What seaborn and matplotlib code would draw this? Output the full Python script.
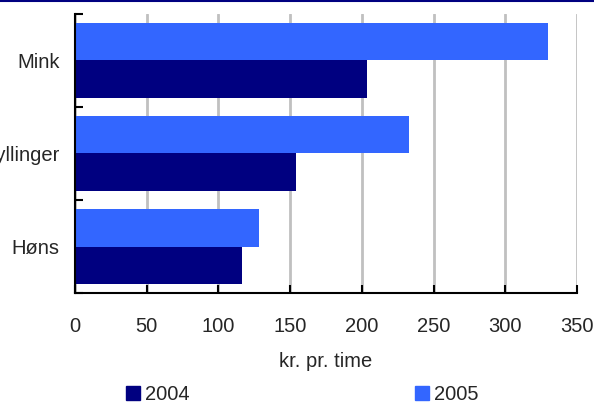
import pandas as pd
import matplotlib
matplotlib.use('Agg')
import matplotlib.pyplot as plt
import seaborn as sns
from matplotlib.lines import Line2D
from matplotlib.patches import Patch

sns.set_style('white')
plt.rcParams['font.family'] = ['Liberation Sans', 'DejaVu Sans']

# Data
categories = ['Mink', 'Kyllinger', 'Høns']
years = ['2004', '2005']
values_2004 = [203.5, 154, 116.5]
values_2005 = [330, 233, 128]
colors = {'2004': '#000080', '2005': '#3366FF'}

df = pd.DataFrame({
    'Kategori': categories * 2,
    'År': ['2004'] * 3 + ['2005'] * 3,
    'Værdi': values_2004 + values_2005,
})

fs = 14.5
fig = plt.figure(figsize=(5.94, 4.05), dpi=100)
ax = fig.add_axes([0.1263, 0.2765, 0.845, 0.689])

sns.barplot(data=df, y='Kategori', x='Værdi', hue='År', hue_order=['2005', '2004'],
            order=categories, palette=colors, orient='h', width=0.8,
            saturation=1, linewidth=0, edgecolor='none', ax=ax, legend=False)

ax.set_xlim(0, 350)
ax.set_ylim(2.5, -0.5)
ax.set_xticks(range(0, 351, 50))
ax.xaxis.grid(True, color='#c0c0c0', linewidth=2)
ax.set_axisbelow(True)
ax.set_ylabel('')
ax.set_xlabel('kr. pr. time', fontsize=fs, labelpad=12)

# category boundary ticks on the y-axis
ax.set_yticks([0, 1, 2])
ax.set_yticks([-0.5, 0.5, 1.5, 2.5], minor=True)
ax.tick_params(axis='y', which='major', left=False, length=0, labelsize=fs, pad=11)
ax.tick_params(axis='y', which='minor', left=True, direction='in', length=6,
               width=1.5, color='black')
ax.tick_params(axis='x', bottom=True, direction='in', length=6, width=1.5,
               color='black', labelsize=fs, pad=17)

for s in ['top', 'right']:
    ax.spines[s].set_visible(False)
for s in ['left', 'bottom']:
    ax.spines[s].set_color('black')
    ax.spines[s].set_linewidth(1.5)

handles = [Patch(color=colors[y]) for y in years]
fig.legend(handles, years, loc='center', bbox_to_anchor=(0.509, 0.025), ncol=2,
           frameon=False, fontsize=fs, handlelength=0.7, handleheight=0.7,
           handletextpad=0.25, columnspacing=11.2, borderpad=0)

fig.add_artist(Line2D([0, 1], [0.9985, 0.9985], color='#000080', linewidth=1.5,
                      transform=fig.transFigure))

fig.savefig('out.png', dpi=100)
